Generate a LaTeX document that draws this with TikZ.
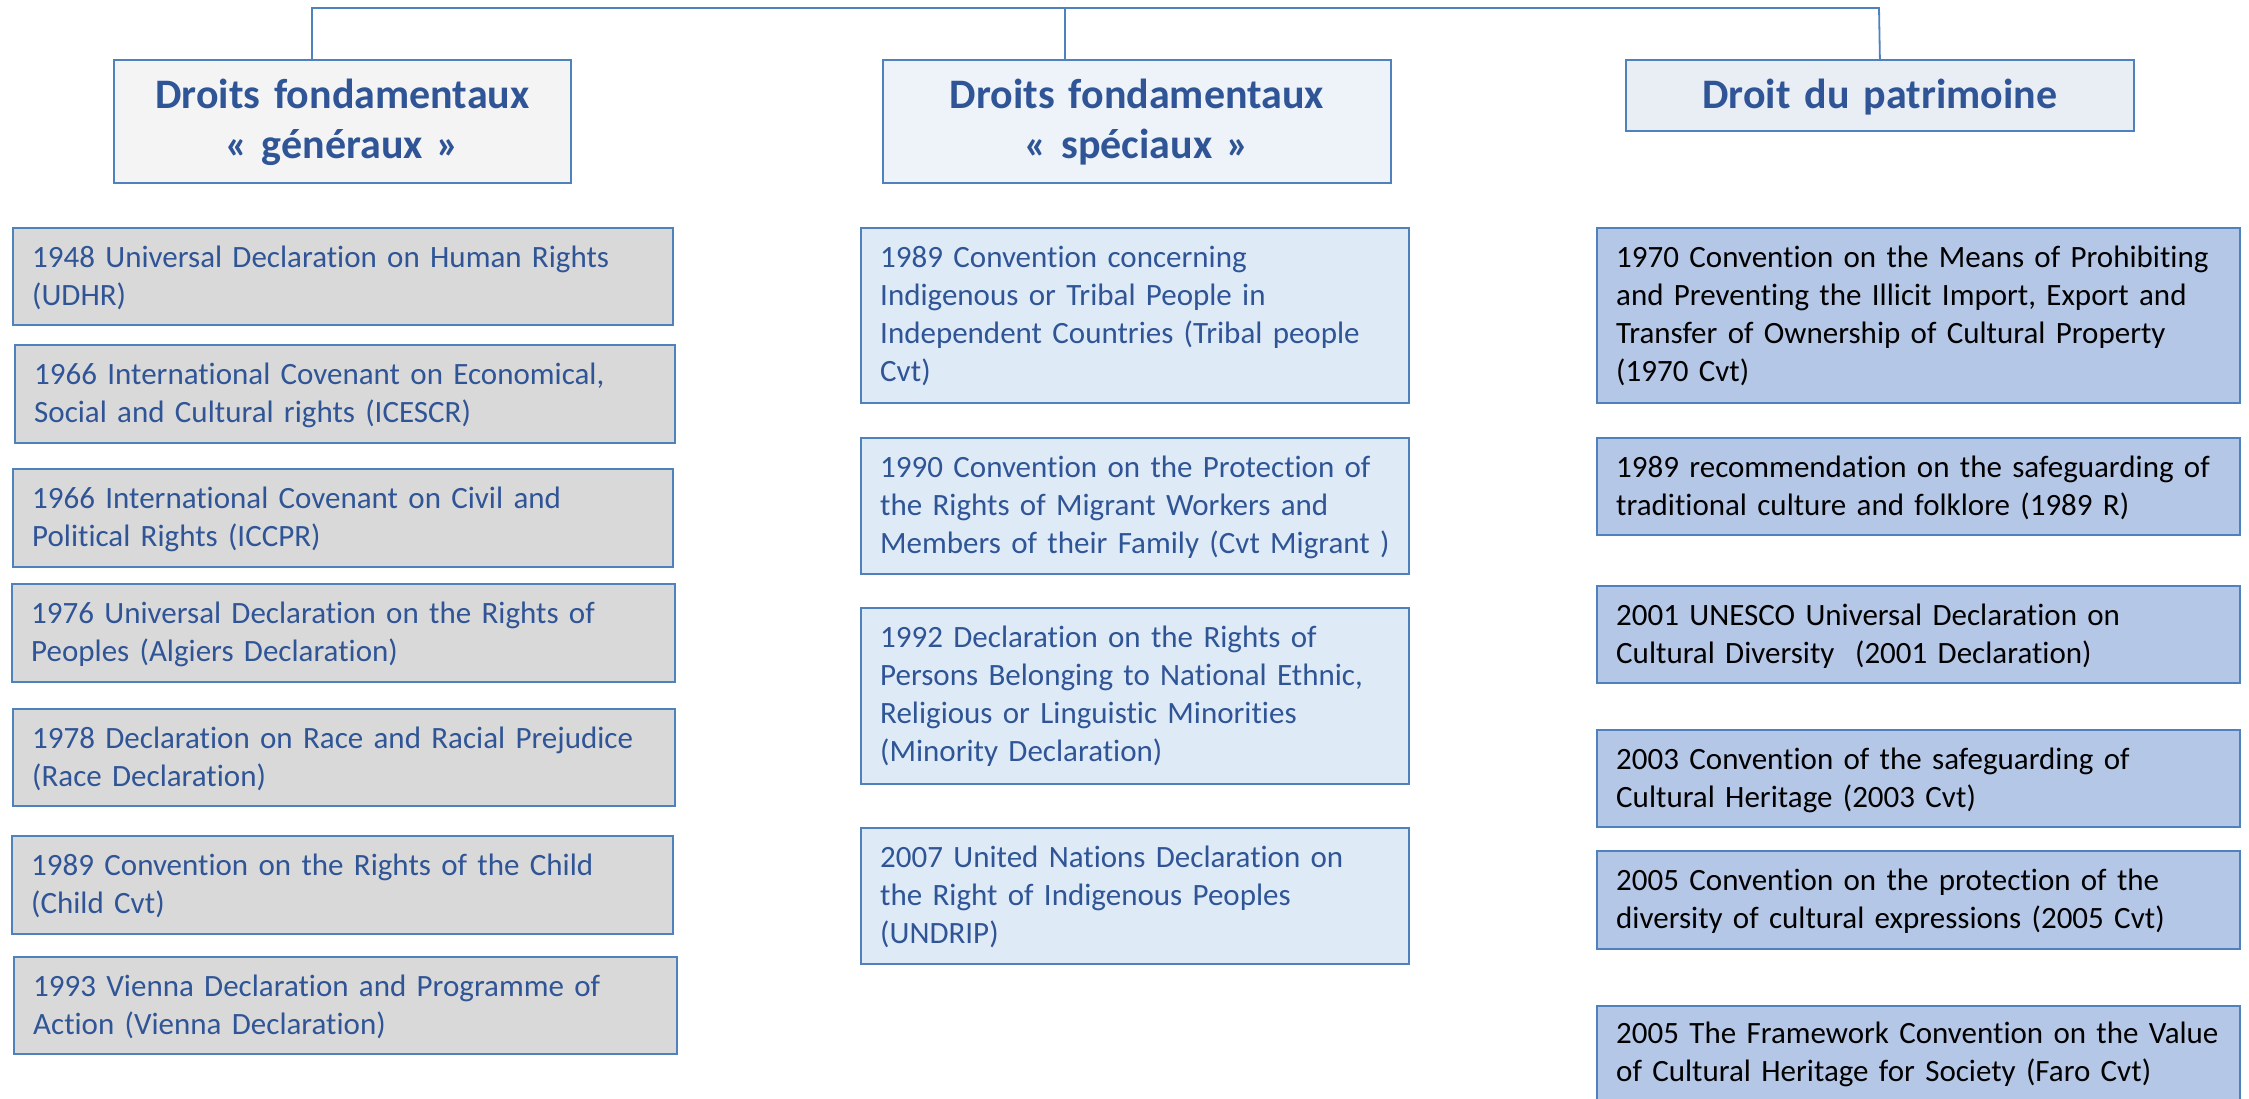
\documentclass[tikz,border=0pt]{standalone}
\usepackage{fontspec}
\setmainfont{Carlito}[Ligatures=NoCommon]
\definecolor{edge}{RGB}{79,129,189}
\definecolor{ink}{RGB}{47,85,151}
\definecolor{headA}{RGB}{244,244,245}
\definecolor{headB}{RGB}{238,243,250}
\definecolor{headC}{RGB}{233,237,244}
\definecolor{greyfill}{RGB}{217,217,217}
\definecolor{palefill}{RGB}{222,234,246}
\definecolor{bluefill}{RGB}{180,199,231}
\begin{document}
\begin{tikzpicture}[x=1pt,y=-1pt,
  box/.style={draw=edge, line width=1.8pt, anchor=north west, inner sep=0pt},
  head/.style={font=\fontsize{42}{50}\selectfont\bfseries, text=ink, anchor=base,
    align=center, text width=500pt, inner sep=0pt},
  body/.style={font=\fontsize{31}{38}\selectfont, anchor=base west, align=left,
    text width=660pt, inner sep=0pt},
  link/.style={draw=edge, line width=1.8pt}]
\clip (0,0) rectangle (2249,1098);

% column headers
\node[box, fill=headA, minimum width=457pt, minimum height=123pt] (h1) at (113,59) {};
\node[box, fill=headB, minimum width=508pt, minimum height=123pt] (h2) at (882,59) {};
\node[box, fill=headC, minimum width=508pt, minimum height=71pt] (h3) at (1625,59) {};
\node[head] (h1t) at ([yshift=-49pt]h1.north) {Droits fondamentaux\\« généraux »};
\node[head] (h2t) at ([yshift=-49pt]h2.north) {Droits fondamentaux\\« spéciaux »};
\node[head] (h3t) at ([yshift=-49pt]h3.north) {Droit du patrimoine};

% bus linking the three headers
\coordinate (d1) at (312,59);
\coordinate (d2) at (1065,59);
\coordinate (b1) at (312,8);
\coordinate (b3) at (1879,8);
\draw[link] (d1) -- (b1) -- (b3) -- (h3.north);
\draw[link] (d2) -- (d2 |- b1);

% general fundamental rights
\node[box, fill=greyfill, minimum width=660pt, minimum height=97pt] (l1) at (12,227) {};
\node[box, fill=greyfill, minimum width=660pt, minimum height=98pt] (l2) at (14,344) {};
\node[box, fill=greyfill, minimum width=660pt, minimum height=98pt] (l3) at (12,468) {};
\node[box, fill=greyfill, minimum width=663pt, minimum height=98pt] (l4) at (11,583) {};
\node[box, fill=greyfill, minimum width=662pt, minimum height=97pt] (l5) at (12,708) {};
\node[box, fill=greyfill, minimum width=661pt, minimum height=98pt] (l6) at (11,835) {};
\node[box, fill=greyfill, minimum width=663pt, minimum height=97pt] (l7) at (13,956) {};
\node[body, text=ink] (l1t) at ([xshift=20pt,yshift=-40pt]l1.north west) {1948 Universal Declaration on Human Rights\\(UDHR)};
\node[body, text=ink] (l2t) at ([xshift=20pt,yshift=-40pt]l2.north west) {1966 International Covenant on Economical,\\Social and Cultural rights (ICESCR)};
\node[body, text=ink] (l3t) at ([xshift=20pt,yshift=-40pt]l3.north west) {1966 International Covenant on Civil and\\Political Rights (ICCPR)};
\node[body, text=ink] (l4t) at ([xshift=20pt,yshift=-40pt]l4.north west) {1976 Universal Declaration on the Rights of\\Peoples (Algiers Declaration)};
\node[body, text=ink] (l5t) at ([xshift=20pt,yshift=-40pt]l5.north west) {1978 Declaration on Race and Racial Prejudice\\(Race Declaration)};
\node[body, text=ink] (l6t) at ([xshift=20pt,yshift=-40pt]l6.north west) {1989 Convention on the Rights of the Child\\(Child Cvt)};
\node[body, text=ink] (l7t) at ([xshift=20pt,yshift=-40pt]l7.north west) {1993 Vienna Declaration and Programme of\\Action (Vienna Declaration)};

% special fundamental rights
\node[box, fill=palefill, minimum width=548pt, minimum height=175pt] (m1) at (860,227) {};
\node[box, fill=palefill, minimum width=548pt, minimum height=136pt] (m2) at (860,437) {};
\node[box, fill=palefill, minimum width=548pt, minimum height=176pt] (m3) at (860,607) {};
\node[box, fill=palefill, minimum width=548pt, minimum height=136pt] (m4) at (860,827) {};
\node[body, text=ink] (m1t) at ([xshift=20pt,yshift=-40pt]m1.north west) {1989 Convention concerning\\Indigenous or Tribal People in\\Independent Countries (Tribal people\\Cvt)};
\node[body, text=ink] (m2t) at ([xshift=20pt,yshift=-40pt]m2.north west) {1990 Convention on the Protection of\\the Rights of Migrant Workers and\\Members of their Family (Cvt Migrant )};
\node[body, text=ink] (m3t) at ([xshift=20pt,yshift=-40pt]m3.north west) {1992 Declaration on the Rights of\\Persons Belonging to National Ethnic,\\Religious or Linguistic Minorities\\(Minority Declaration)};
\node[body, text=ink] (m4t) at ([xshift=20pt,yshift=-40pt]m4.north west) {2007 United Nations Declaration on\\the Right of Indigenous Peoples\\(UNDRIP)};

% heritage law
\node[box, fill=bluefill, minimum width=643pt, minimum height=175pt] (r1) at (1596,227) {};
\node[box, fill=bluefill, minimum width=643pt, minimum height=97pt] (r2) at (1596,437) {};
\node[box, fill=bluefill, minimum width=643pt, minimum height=97pt] (r3) at (1596,585) {};
\node[box, fill=bluefill, minimum width=643pt, minimum height=97pt] (r4) at (1596,729) {};
\node[box, fill=bluefill, minimum width=643pt, minimum height=98pt] (r5) at (1596,850) {};
\node[box, fill=bluefill, minimum width=643pt, minimum height=110pt] (r6) at (1596,1005) {};
\node[body] (r1t) at ([xshift=20pt,yshift=-40pt]r1.north west) {1970 Convention on the Means of Prohibiting\\and Preventing the Illicit Import, Export and\\Transfer of Ownership of Cultural Property\\(1970 Cvt)};
\node[body] (r2t) at ([xshift=20pt,yshift=-40pt]r2.north west) {1989 recommendation on the safeguarding of\\traditional culture and folklore (1989 R)};
\node[body] (r3t) at ([xshift=20pt,yshift=-40pt]r3.north west) {2001 UNESCO Universal Declaration on\\Cultural Diversity \ (2001 Declaration)};
\node[body] (r4t) at ([xshift=20pt,yshift=-40pt]r4.north west) {2003 Convention of the safeguarding of\\Cultural Heritage (2003 Cvt)};
\node[body] (r5t) at ([xshift=20pt,yshift=-40pt]r5.north west) {2005 Convention on the protection of the\\diversity of cultural expressions (2005 Cvt)};
\node[body] (r6t) at ([xshift=20pt,yshift=-38pt]r6.north west) {2005 The Framework Convention on the Value\\of Cultural Heritage for Society (Faro Cvt)};
\end{tikzpicture}
\end{document}
